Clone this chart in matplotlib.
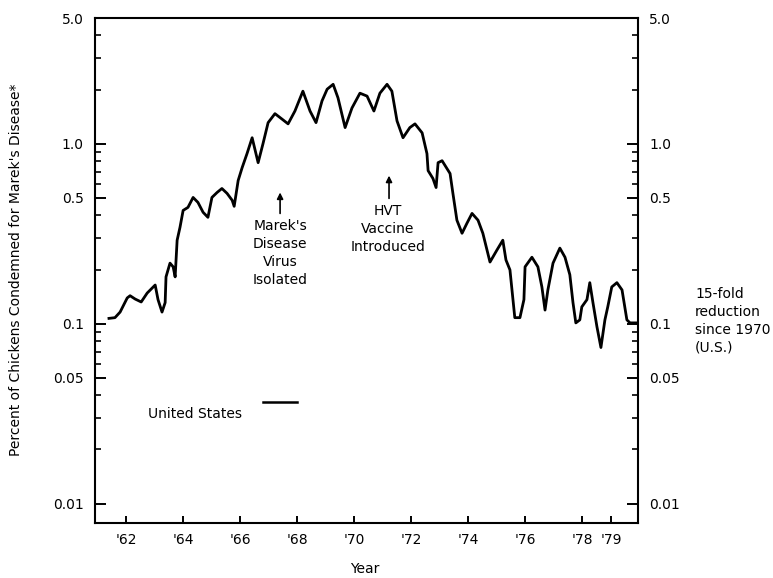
import matplotlib
matplotlib.use("Agg")
import matplotlib.pyplot as plt

plt.rcParams['font.family'] = ['DejaVu Sans']

# Data (year, percent condemned)
years = [61.40, 61.61, 61.79, 62.04, 62.14, 62.32, 62.53, 62.74, 63.02, 63.12,
         63.26, 63.37, 63.40, 63.54, 63.65, 63.72, 63.79, 63.89, 64.00, 64.17,
         64.35, 64.52, 64.70, 64.87, 65.01, 65.19, 65.36, 65.54, 65.72, 65.79,
         65.93, 66.07, 66.24, 66.42, 66.63, 66.80, 66.98, 67.22, 67.47, 67.68,
         67.92, 68.20, 68.45, 68.66, 68.87, 69.05, 69.26, 69.43, 69.68, 69.92,
         70.20, 70.45, 70.69, 70.90, 71.15, 71.32, 71.50, 71.71, 71.95, 72.13,
         72.38, 72.55, 72.59, 72.76, 72.87, 72.94, 73.08, 73.36, 73.46, 73.60,
         73.78, 73.95, 74.13, 74.34, 74.51, 74.76, 75.00, 75.21, 75.32, 75.46,
         75.63, 75.81, 75.95, 75.99, 76.23, 76.44, 76.58, 76.69, 76.79, 76.97,
         77.21, 77.39, 77.56, 77.67, 77.77, 77.91, 77.98, 78.16, 78.26, 78.37,
         78.51, 78.65, 78.79, 78.89, 79.03, 79.21, 79.39, 79.56, 79.67, 79.93]
percent = [0.107, 0.108, 0.116, 0.139, 0.143, 0.137, 0.132, 0.148, 0.164, 0.136,
           0.116, 0.131, 0.182, 0.217, 0.207, 0.182, 0.291, 0.343, 0.426, 0.443,
           0.503, 0.472, 0.416, 0.390, 0.503, 0.536, 0.564, 0.530, 0.485, 0.449,
           0.625, 0.737, 0.881, 1.08, 0.785, 1.00, 1.31, 1.47, 1.37, 1.29,
           1.52, 1.96, 1.52, 1.31, 1.73, 2.01, 2.14, 1.80, 1.23, 1.58,
           1.91, 1.84, 1.52, 1.91, 2.14, 1.96, 1.34, 1.08, 1.23, 1.29,
           1.15, 0.881, 0.709, 0.641, 0.571, 0.785, 0.805, 0.683, 0.530, 0.376,
           0.318, 0.361, 0.410, 0.376, 0.318, 0.220, 0.256, 0.291, 0.226, 0.199,
           0.108, 0.108, 0.136, 0.207, 0.234, 0.207, 0.160, 0.119, 0.154, 0.217,
           0.263, 0.234, 0.187, 0.131, 0.101, 0.105, 0.124, 0.136, 0.169, 0.131,
           0.0962, 0.0737, 0.105, 0.124, 0.160, 0.169, 0.154, 0.105, 0.101, 0.101]

x_ticks = [62, 64, 66, 68, 70, 72, 74, 76, 78, 79]
x_tick_labels = ["'62", "'64", "'66", "'68", "'70", "'72", "'74", "'76", "'78", "'79"]
y_ticks = [0.01, 0.05, 0.1, 0.5, 1.0, 5.0]
y_tick_labels = ["0.01", "0.05", "0.1", "0.5", "1.0", "5.0"]
y_minor = [0.02, 0.03, 0.04, 0.06, 0.07, 0.08, 0.09,
           0.2, 0.3, 0.4, 0.6, 0.7, 0.8, 0.9, 2, 3, 4]

legend_x = [66.8, 67.99]
legend_y = [0.0366, 0.0366]

FS = 10
W, H = 773, 578
fig = plt.figure(figsize=(W / 100, H / 100), dpi=100)
ax = fig.add_axes([95 / W, 1 - 523 / H, (638 - 95) / W, (523 - 18) / H])

ax.plot(years, percent, color='black', lw=2.0, solid_joinstyle='round')
ax.plot(legend_x, legend_y, color='black', lw=1.8)

ax.set_yscale('log')
ax.set_ylim(0.0078, 5.0)
ax.set_xlim(60.91, 79.95)

ax.set_xticks(x_ticks)
ax.set_xticklabels(x_tick_labels)
ax.xaxis.set_minor_locator(matplotlib.ticker.NullLocator())
ax.set_yticks(y_ticks)
ax.set_yticklabels(y_tick_labels)
ax.set_yticks(y_minor, minor=True)
ax.yaxis.set_minor_formatter(matplotlib.ticker.NullFormatter())

ax.tick_params(axis='y', which='major', direction='in', length=8, width=1.4,
               left=True, right=True, labelleft=True, labelright=True,
               labelsize=FS, pad=8)
ax.tick_params(axis='y', which='minor', direction='in', length=4, width=1.2,
               left=True, right=True)
ax.tick_params(axis='x', which='major', direction='in', length=5, width=1.4,
               labelsize=FS, pad=7, top=False)
for s in ax.spines.values():
    s.set_linewidth(1.5)

# Annotations
arrowprops = dict(arrowstyle='-|>', color='black', lw=1.2, mutation_scale=9,
                  shrinkA=0, shrinkB=0)
ax.annotate('', xy=(67.40, 0.536), xytext=(67.40, 0.41), arrowprops=arrowprops)
ax.text(67.40, 0.247, "Marek's\nDisease\nVirus\nIsolated", ha='center', va='center',
        fontsize=FS, linespacing=1.35)
ax.annotate('', xy=(71.22, 0.665), xytext=(71.22, 0.497), arrowprops=arrowprops)
ax.text(71.18, 0.335, "HVT\nVaccine\nIntroduced", ha='center', va='center',
        fontsize=FS, linespacing=1.35)

ax.text(62.77, 0.0314, "United States", ha='left', va='center', fontsize=FS)

fig.text(695 / W, 1 - 287 / H, "15-fold\nreduction\nsince 1970\n(U.S.)",
         ha='left', va='top', fontsize=FS, linespacing=1.35)

fig.text(16 / W, 1 - 270 / H, "Percent of Chickens Condemned for Marek's Disease*",
         rotation=90, ha='center', va='center', fontsize=FS)
fig.text(365 / W, 1 - 569 / H, "Year", ha='center', va='center', fontsize=FS)

fig.savefig("out.png", dpi=100)
